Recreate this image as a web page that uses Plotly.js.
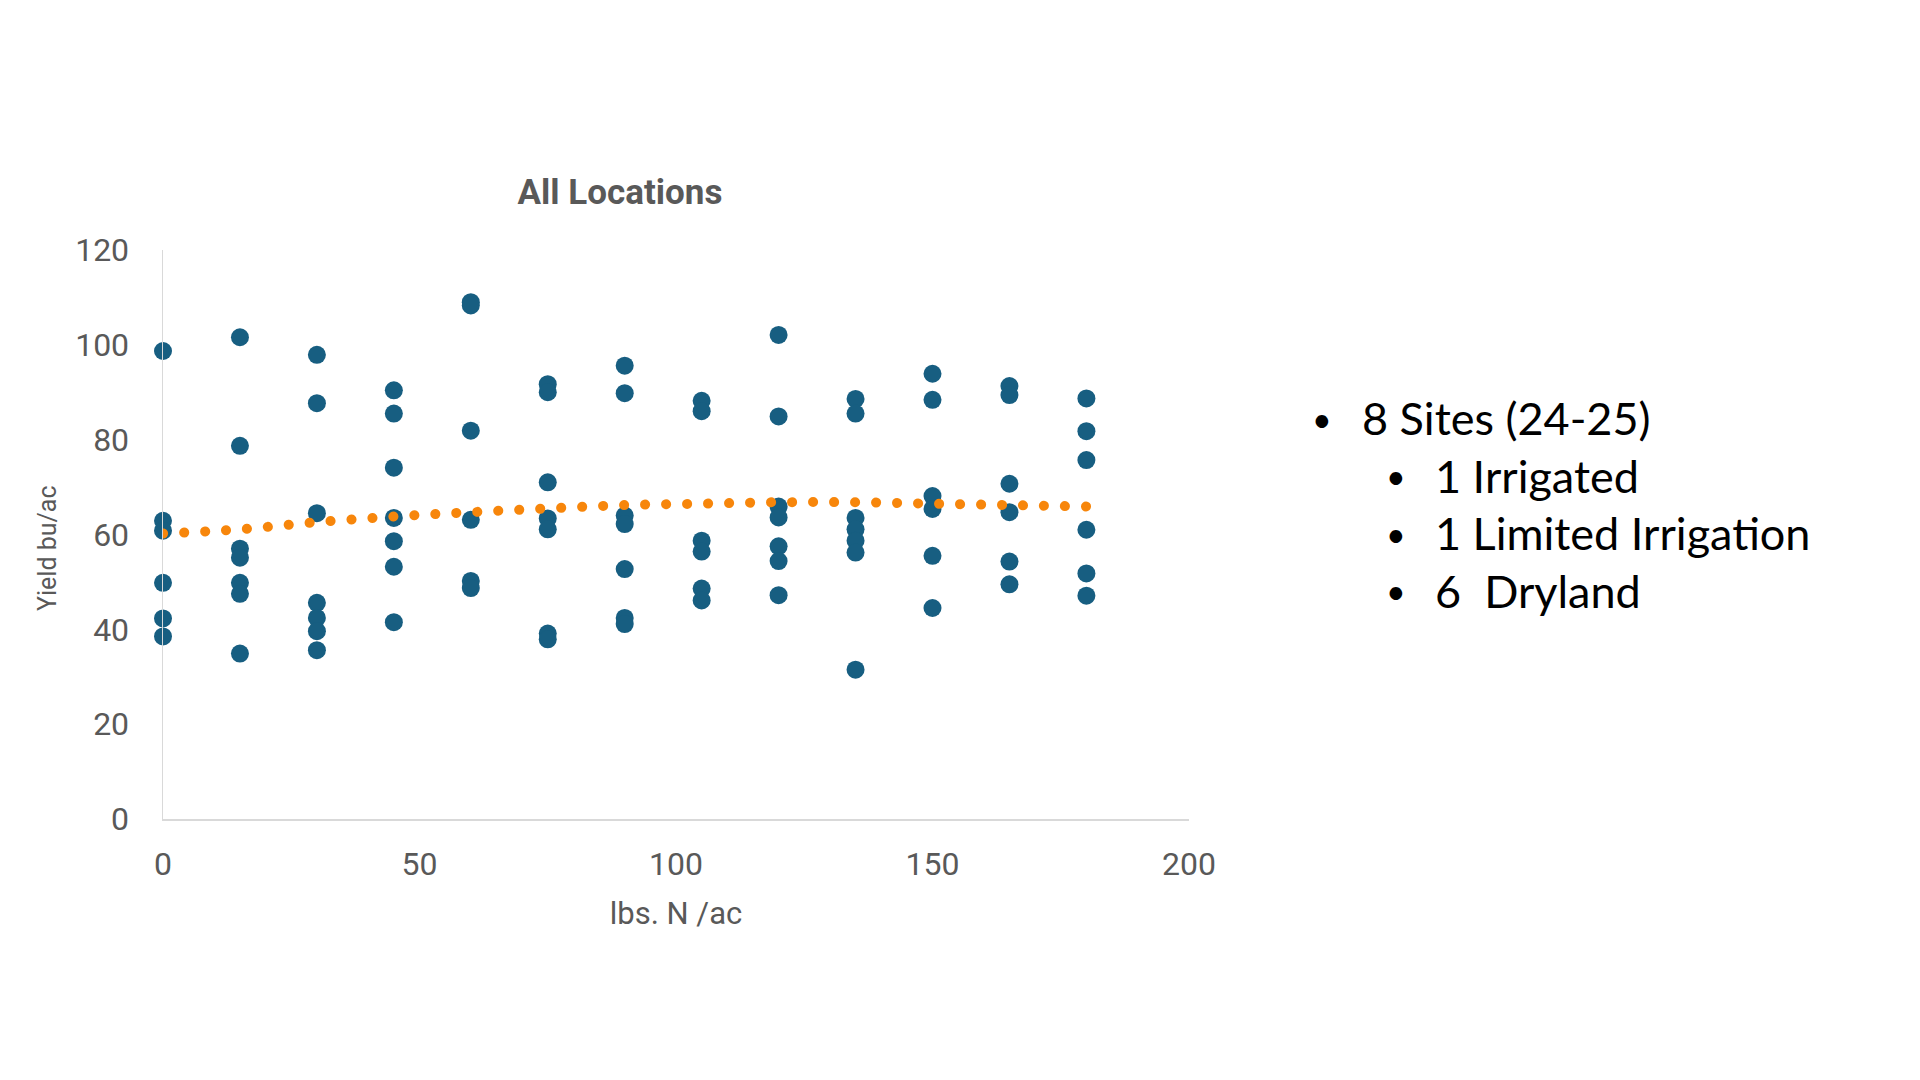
<!DOCTYPE html>
<html>
<head>
<meta charset="utf-8">
<script src="https://cdn.plot.ly/plotly-3.0.1.min.js"></script>
<style>
  html, body { margin: 0; padding: 0; background: #ffffff; }
  #chart { width: 1920px; height: 1080px; }
</style>
</head>
<body>
<div id="chart"></div>
<script>
// N rates (lbs N/ac) and observed yields (bu/ac), one pair per point
const nRate = [
  0, 0, 0, 0, 0, 0,
  15, 15, 15, 15, 15, 15, 15,
  30, 30, 30, 30, 30, 30, 30,
  45, 45, 45, 45, 45, 45, 45,
  60, 60, 60, 60, 60, 60,
  75, 75, 75, 75, 75, 75, 75,
  90, 90, 90, 90, 90, 90, 90,
  105, 105, 105, 105, 105, 105,
  120, 120, 120, 120, 120, 120, 120,
  135, 135, 135, 135, 135, 135, 135,
  150, 150, 150, 150, 150, 150,
  165, 165, 165, 165, 165, 165,
  180, 180, 180, 180, 180, 180
];
const yieldBu = [
  98.7, 62.9, 60.8, 49.8, 42.3, 38.5,
  101.6, 78.7, 57.0, 55.1, 49.8, 47.5, 34.9,
  97.9, 87.7, 64.5, 45.6, 42.4, 39.6, 35.6,
  90.4, 85.5, 74.1, 63.5, 58.6, 53.2, 41.5,
  109.0, 108.3, 81.9, 63.1, 50.2, 48.7,
  91.7, 90.0, 71.0, 63.4, 61.1, 39.1, 37.9,
  95.6, 89.8, 64.0, 62.2, 52.7, 42.4, 41.1,
  88.2, 86.0, 58.7, 56.4, 48.6, 46.1,
  102.1, 84.9, 65.9, 63.6, 57.5, 54.4, 47.2,
  88.6, 85.5, 63.5, 61.1, 58.7, 56.2, 31.5,
  93.9, 88.4, 68.1, 65.4, 55.5, 44.5,
  91.3, 89.4, 70.7, 64.7, 54.3, 49.5,
  88.7, 81.8, 75.7, 61.0, 51.8, 47.1
];
// Trendline values
const trendX = [0, 15, 30, 45, 60, 75, 90, 105, 120, 135, 150, 165, 180];
const trendY = [60.2, 61.1, 62.6, 63.8, 64.7, 65.5, 66.2, 66.5, 66.8, 66.8, 66.5, 66.2, 65.9];

const chartTitle = "All Locations";
const xTitle = "lbs. N /ac";
const yTitle = "Yield bu/ac";
const notes = [
  {level: 0, text: "8 Sites (24-25)"},
  {level: 1, text: "1 Irrigated"},
  {level: 1, text: "1 Limited Irrigation"},
  {level: 1, text: "6\u00a0 Dryland"}
];

const axisFont = "Roboto, 'Liberation Sans', sans-serif";
const grey = "#595959";

const traces = [
  {
    type: "scatter", mode: "markers",
    x: nRate, y: yieldBu,
    marker: {color: "#175E81", size: 18},
    cliponaxis: false,
    showlegend: false, hoverinfo: "x+y"
  },
  {
    type: "scatter", mode: "lines",
    x: trendX, y: trendY,
    line: {color: "#F7860B", width: 10, dash: "9px,12px", shape: "spline"},
    cliponaxis: false,
    showlegend: false, hoverinfo: "skip"
  }
];

const annotations = [];
const lineY0 = 418, lineStep = 57.5;
notes.forEach((n, i) => {
  const yPix = lineY0 + i * lineStep;
  const bulletX = n.level === 0 ? 1322 : 1396;
  const textX = n.level === 0 ? 1360 : 1433;
  annotations.push({
    xref: "paper", yref: "paper",
    x: (bulletX - 163) / 1026, y: (819 - yPix) / 569,
    xanchor: "center", yanchor: "middle",
    text: "\u2022", showarrow: false,
    font: {family: "Lato, 'Noto Sans', sans-serif", size: 34, color: "#000000"}
  });
  annotations.push({
    xref: "paper", yref: "paper",
    x: (textX - 163) / 1026, y: (819 - yPix) / 569,
    xanchor: "left", yanchor: "middle",
    text: n.text, showarrow: false,
    font: {family: "Lato, 'Noto Sans', sans-serif", size: 45, color: "#000000"}
  });
});
// y-axis title placed as rotated text
annotations.push({
  xref: "paper", yref: "paper",
  x: (47 - 163) / 1026, y: (819 - 548) / 569,
  xanchor: "center", yanchor: "middle",
  text: yTitle, textangle: -90, showarrow: false,
  font: {family: axisFont, size: 25, color: grey}
});

const layout = {
  width: 1920, height: 1080,
  paper_bgcolor: "#ffffff", plot_bgcolor: "#ffffff",
  margin: {l: 163, r: 731, t: 250, b: 261, pad: 0},
  title: {
    text: "<b>" + chartTitle + "</b>",
    font: {family: axisFont, size: 35, color: grey},
    xref: "paper", x: (620 - 163) / 1026, xanchor: "center",
    yref: "container", y: 1 - 192 / 1080, yanchor: "middle"
  },
  xaxis: {
    range: [0, 200], dtick: 50, tick0: 0,
    showgrid: false, zeroline: false,
    showline: true, linecolor: "#D9D9D9", linewidth: 1.5,
    ticks: "", ticklabelstandoff: 16,
    tickfont: {family: axisFont, size: 32, color: grey},
    title: {text: xTitle, standoff: 20, font: {family: axisFont, size: 31, color: grey}},
    automargin: false, fixedrange: true
  },
  yaxis: {
    range: [0, 120], dtick: 20, tick0: 0,
    showgrid: false, zeroline: false,
    showline: true, linecolor: "#D9D9D9", linewidth: 1.5,
    ticks: "", ticklabelstandoff: 26,
    tickfont: {family: axisFont, size: 32, color: grey},
    automargin: false, fixedrange: true
  },
  annotations: annotations,
  showlegend: false
};

Plotly.newPlot("chart", traces, layout, {displayModeBar: false, staticPlot: true}).then(() => {
  const lines = document.querySelectorAll(".scatterlayer .trace path.js-line");
  lines.forEach(p => {
    p.style.strokeLinecap = "round";
    p.style.strokeDasharray = "0.1px,20.9px";
  });
});
</script>
</body>
</html>
